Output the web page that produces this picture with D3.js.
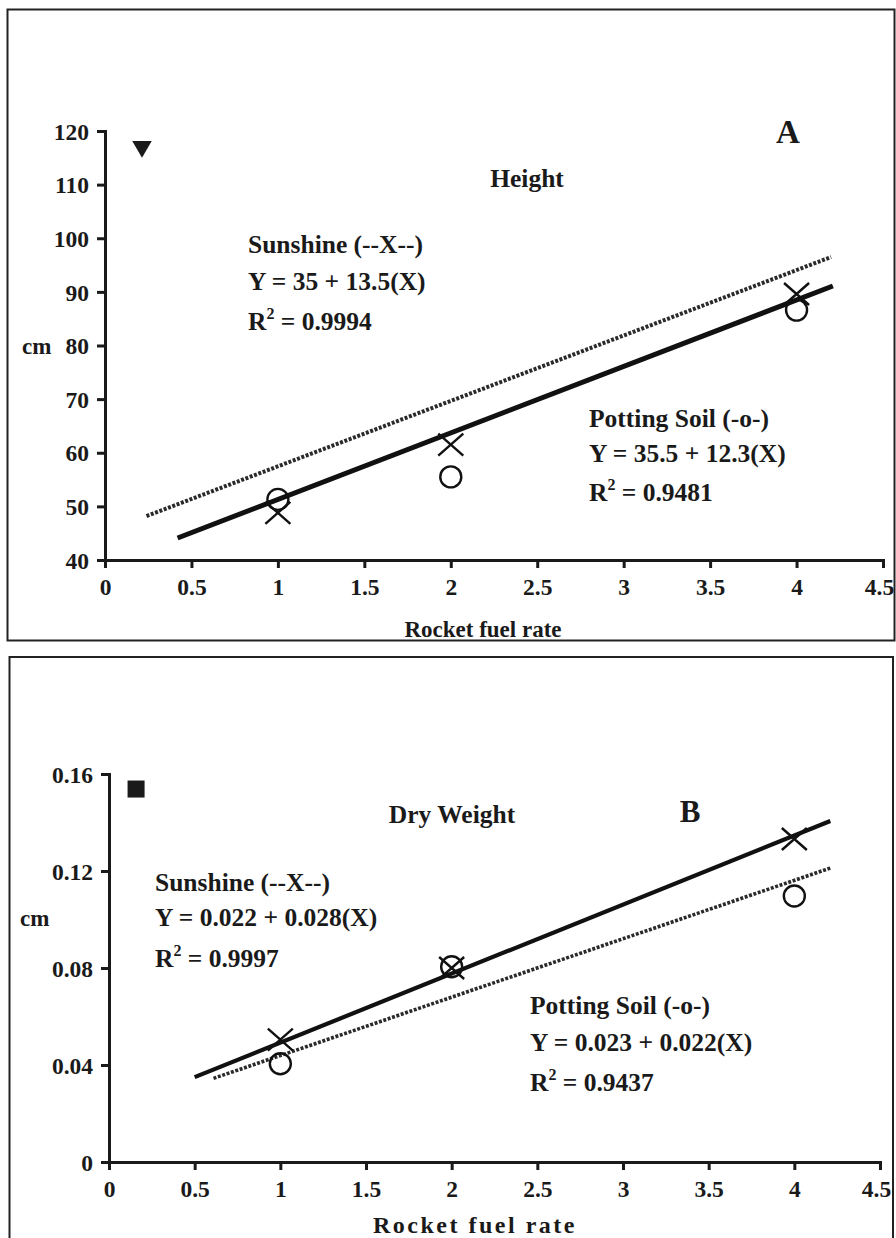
<!DOCTYPE html>
<html>
<head>
<meta charset="utf-8">
<script src="https://cdn.jsdelivr.net/npm/d3@7"></script>
<style>
  body { margin: 0; background: #fff; }
  svg text { font-family: "Liberation Serif", "Times New Roman", serif; font-weight: bold; fill: #1a1a1a; }
</style>
</head>
<body>
<svg id="grafico"></svg>
<script>
// Dados
var xTicks = [0, 0.5, 1, 1.5, 2, 2.5, 3, 3.5, 4, 4.5];
var heightTicks = [40, 50, 60, 70, 80, 90, 100, 110, 120];
var weightTicks = [0, 0.04, 0.08, 0.12, 0.16];

var rates = [1, 2, 4];
var heightSunshine = [48.8, 61.5, 89.6];
var heightPotting = [51.3, 55.5, 86.6];
var weightSunshine = [0.0505, 0.0800, 0.1332];
var weightPotting = [0.0405, 0.0805, 0.1097];

// linhas de tendencia: [x, y] das extremidades
var heightSolid = [[0.42, 44.1], [4.21, 91.1]];
var heightDotted = [[0.24, 48.2], [4.20, 96.5]];
var weightSolid = [[0.50, 0.0350], [4.21, 0.1406]];
var weightDotted = [[0.61, 0.0345], [4.21, 0.1212]];

// marcadores isolados no canto
var heightFlag = [[0.214, 117.1]];
var weightFlag = [[0.158, 0.1538]];

var svg = d3.select('#grafico')
            .attr('width', 896)
            .attr('height', 1238);

// molduras dos dois paineis
svg.append('rect')
   .attr('x', 7.5).attr('y', 9.5)
   .attr('width', 887).attr('height', 631)
   .attr('fill', 'none').attr('stroke', '#222').attr('stroke-width', 2);
svg.append('rect')
   .attr('x', 9.5).attr('y', 657)
   .attr('width', 883.5).attr('height', 620)
   .attr('fill', 'none').attr('stroke', '#222').attr('stroke-width', 2);

function Painel(p) {
  var g = svg.append('g');

  var x = d3.scaleLinear().domain([0, 4.5]).range(p.xRange);
  var y = d3.scaleLinear().domain(p.yDomain).range(p.yRange);

  // eixos
  var eixoX = g.append('g')
               .attr('transform', 'translate(0,' + p.yRange[0] + ')')
               .call(d3.axisBottom(x).tickValues(xTicks).tickSizeOuter(0)
                       .tickSize(8).tickPadding(10).tickFormat(d3.format('')));
  var eixoY = g.append('g')
               .attr('transform', 'translate(' + p.xRange[0] + ',0)')
               .call(d3.axisLeft(y).tickValues(p.yTicks).tickSizeOuter(0)
                       .tickSize(8).tickPadding(8).tickFormat(d3.format('')));
  [eixoX, eixoY].forEach(function(e) {
    e.select('.domain').attr('stroke', '#1a1a1a').attr('stroke-width', 3);
    e.selectAll('.tick line').attr('stroke', '#1a1a1a').attr('stroke-width', 3);
    e.selectAll('.tick text').style('font-size', '23.5px').attr('fill', '#1a1a1a');
  });
  eixoY.selectAll('.tick text').attr('dy', '0.35em');
  // o ultimo rotulo encosta na moldura
  eixoX.selectAll('.tick text').filter(d => d === 4.5).attr('dx', -4);

  // linhas de tendencia
  var linha = d3.line().x(d => x(d[0])).y(d => y(d[1]));
  g.append('path')
   .attr('d', linha(p.dotted))
   .attr('fill', 'none')
   .attr('stroke', '#2a2a2a')
   .attr('stroke-width', p.dottedWidth)
   .attr('stroke-dasharray', '3,1.6');
  g.append('path')
   .attr('d', linha(p.solid))
   .attr('fill', 'none')
   .attr('stroke', '#111')
   .attr('stroke-width', p.solidWidth);

  // pontos: X para Sunshine, circulo para Potting Soil
  g.selectAll('.cruz')
   .data(rates.map((r, i) => [r, p.sunshine[i]]))
   .enter()
   .append('path')
   .classed('cruz', true)
   .attr('transform', d => 'translate(' + x(d[0]) + ',' + y(d[1]) + ')')
   .attr('d', 'M-12.5,-11L12.5,11M-12.5,11L12.5,-11')
   .attr('fill', 'none')
   .attr('stroke', '#111')
   .attr('stroke-width', 2.4);
  g.selectAll('.circulo')
   .data(rates.map((r, i) => [r, p.potting[i]]))
   .enter()
   .append('circle')
   .classed('circulo', true)
   .attr('cx', d => x(d[0]))
   .attr('cy', d => y(d[1]))
   .attr('r', 10.5)
   .attr('fill', 'none')
   .attr('stroke', '#111')
   .attr('stroke-width', 2.4);

  // marcador do canto
  g.selectAll('.marca')
   .data(p.flag)
   .enter()
   .append('path')
   .attr('transform', d => 'translate(' + x(d[0]) + ',' + y(d[1]) + ') rotate(' + p.flagRotate + ')')
   .attr('d', d3.symbol().type(p.flagType).size(p.flagSize))
   .attr('fill', '#1a1a1a');

  // titulo do eixo X
  g.append('text')
   .attr('x', p.xTitle[0]).attr('y', p.xTitle[1])
   .style('text-anchor', 'middle')
   .style('font-size', p.xTitleSize)
   .style('letter-spacing', p.xTitleSpacing)
   .text('Rocket fuel rate');

  // rotulo do eixo Y
  g.append('text')
   .attr('x', p.cm[0]).attr('y', p.cm[1])
   .style('font-size', '23px')
   .text('cm');

  return g;
}

function bloco(g, x0, ys, titulo, equacao, r2) {
  var t = g.append('g').style('font-size', '25.5px');
  t.append('text').attr('x', x0).attr('y', ys[0]).text(titulo);
  t.append('text').attr('x', x0).attr('y', ys[1]).text(equacao);
  var r = t.append('text').attr('x', x0).attr('y', ys[2]);
  r.append('tspan').text('R');
  r.append('tspan').attr('dy', -11).style('font-size', '16px').text('2');
  r.append('tspan').attr('dy', 11).text(' = ' + r2);
}

// Painel A
var painelA = Painel({
  xRange: [105, 883], yRange: [560, 131], yDomain: [40, 120], yTicks: heightTicks,
  sunshine: heightSunshine, potting: heightPotting,
  solid: heightSolid, dotted: heightDotted, solidWidth: 5, dottedWidth: 4,
  flag: heightFlag, flagType: d3.symbolTriangle, flagSize: 165, flagRotate: 180,
  xTitle: [483, 637], xTitleSize: '23px', xTitleSpacing: '0px', cm: [22, 354]
});
painelA.append('text').attr('x', 788).attr('y', 143)
       .style('text-anchor', 'middle').style('font-size', '33px').text('A');
painelA.append('text').attr('x', 527).attr('y', 187)
       .style('text-anchor', 'middle').style('font-size', '25.5px').text('Height');
bloco(painelA, 248, [253, 290, 330], 'Sunshine (--X--)', 'Y = 35 + 13.5(X)', '0.9994');
bloco(painelA, 589, [427, 462, 501], 'Potting Soil (-o-)', 'Y = 35.5 + 12.3(X)', '0.9481');

// Painel B
var painelB = Painel({
  xRange: [109, 880], yRange: [1162, 774], yDomain: [0, 0.16], yTicks: weightTicks,
  sunshine: weightSunshine, potting: weightPotting,
  solid: weightSolid, dotted: weightDotted, solidWidth: 4.2, dottedWidth: 3.6,
  flag: weightFlag, flagType: d3.symbolSquare, flagSize: 290, flagRotate: 0,
  xTitle: [475, 1233], xTitleSize: '24px', xTitleSpacing: '2.5px', cm: [20, 926]
});
painelB.append('text').attr('x', 690).attr('y', 822)
       .style('text-anchor', 'middle').style('font-size', '31px').text('B');
painelB.append('text').attr('x', 452).attr('y', 823)
       .style('text-anchor', 'middle').style('font-size', '25.5px').text('Dry Weight');
bloco(painelB, 155, [891, 926, 967], 'Sunshine (--X--)', 'Y = 0.022 + 0.028(X)', '0.9997');
bloco(painelB, 530, [1014, 1051, 1091], 'Potting Soil (-o-)', 'Y = 0.023 + 0.022(X)', '0.9437');
</script>
</body>
</html>
